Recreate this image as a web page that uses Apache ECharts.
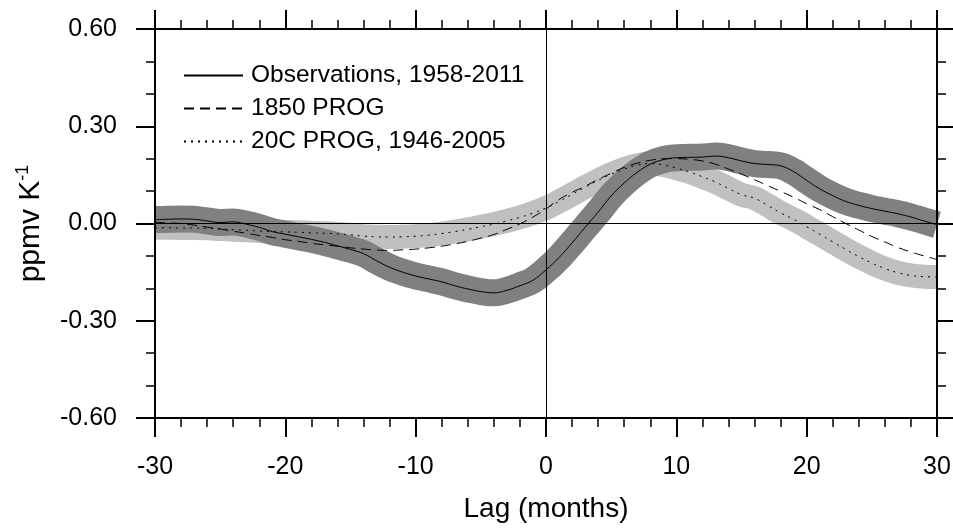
<!DOCTYPE html>
<html>
<head>
<meta charset="utf-8">
<title>Lag regression</title>
<script src="https://cdn.jsdelivr.net/npm/echarts@6/dist/echarts.min.js"></script>
<style>
    html, body { margin: 0; padding: 0; background: #fff; }
    #chart { width: 953px; height: 532px; }
</style>
</head>
<body>
<div id="chart"></div>
<script>
    'use strict';

    // lag in months, -30 .. 30
    var lags = [];
    for (var m = -30; m <= 30; m++) {
        lags.push(m);
    }

    // Observations, 1958-2011
    var obsValues = [
        0.012, 0.013, 0.014, 0.013, 0.008, 0.003, 0.005, -0.002, -0.012, -0.025,
        -0.033, -0.041, -0.049, -0.058, -0.069, -0.080, -0.093, -0.115, -0.135, -0.150,
        -0.162, -0.171, -0.180, -0.192, -0.202, -0.210, -0.214, -0.206, -0.192, -0.175,
        -0.143, -0.105, -0.060, -0.012, 0.035, 0.085, 0.125, 0.158, 0.183, 0.197,
        0.203, 0.204, 0.205, 0.208, 0.203, 0.193, 0.185, 0.182, 0.178, 0.160,
        0.133, 0.107, 0.086, 0.068, 0.056, 0.046, 0.038, 0.030, 0.020, 0.008,
        -0.004
    ];

    // 1850 PROG
    var prog1850Values = [
        0.004, 0.002, 0.000, -0.005, -0.011, -0.017, -0.024, -0.030, -0.037, -0.043,
        -0.050, -0.055, -0.061, -0.066, -0.070, -0.075, -0.079, -0.082, -0.083, -0.081,
        -0.079, -0.075, -0.070, -0.063, -0.055, -0.045, -0.034, -0.018, -0.001, 0.020,
        0.045, 0.074, 0.096, 0.115, 0.136, 0.155, 0.173, 0.186, 0.195, 0.200,
        0.200, 0.198, 0.193, 0.183, 0.168, 0.152, 0.135, 0.117, 0.099, 0.081,
        0.061, 0.043, 0.021, 0.000, -0.020, -0.040, -0.057, -0.074, -0.088, -0.100,
        -0.111
    ];

    // 20C PROG, 1946-2005
    var prog20cValues = [
        -0.013, -0.013, -0.014, -0.014, -0.015, -0.017, -0.019, -0.021, -0.023, -0.025,
        -0.026, -0.027, -0.029, -0.030, -0.032, -0.035, -0.039, -0.041, -0.042, -0.041,
        -0.039, -0.036, -0.031, -0.025, -0.018, -0.010, -0.002, 0.008, 0.019, 0.032,
        0.048, 0.068, 0.090, 0.112, 0.133, 0.152, 0.168, 0.180, 0.185, 0.181,
        0.171, 0.159, 0.144, 0.128, 0.108, 0.089, 0.078, 0.056, 0.033, 0.013,
        -0.010, -0.033, -0.057, -0.080, -0.102, -0.122, -0.139, -0.152, -0.160, -0.164,
        -0.165
    ];

    var legendNames = ['Observations, 1958-2011', '1850 PROG', '20C PROG, 1946-2005'];
    var xTicks = { min: -30, max: 30, step: 10 };
    var yTicks = { min: -0.6, max: 0.6, step: 0.3 };

    var FONT = "'Liberation Sans', Arial, Helvetica, sans-serif";

    function pairs(values) {
        var out = [];
        for (var i = 0; i < lags.length; i++) {
            out.push([lags[i], values[i]]);
        }
        return out;
    }

    function xAxisOf(pos, showLabel) {
        return {
            type: 'value',
            position: pos,
            min: xTicks.min,
            max: xTicks.max,
            interval: xTicks.step,
            z: 5,
            name: showLabel ? 'Lag (months)' : '',
            nameLocation: 'middle',
            nameGap: 77,
            nameTextStyle: { color: '#000', fontSize: 28, fontFamily: FONT },
            axisLine: { show: true, onZero: false, lineStyle: { color: '#000', width: 2 } },
            axisTick: { show: true, inside: false, length: 19, lineStyle: { color: '#000', width: 2 } },
            minorTick: { show: true, splitNumber: 5, length: 9, lineStyle: { color: '#000', width: 1.5 } },
            axisLabel: {
                show: showLabel, margin: 37, color: '#000', fontSize: 25, fontFamily: FONT
            },
            splitLine: { show: false },
            minorSplitLine: { show: false }
        };
    }

    function yAxisOf(pos, showLabel) {
        return {
            type: 'value',
            position: pos,
            min: yTicks.min,
            max: yTicks.max,
            interval: yTicks.step,
            z: 5,
            name: showLabel ? '{a|ppmv K}{s|-1}' : '',
            nameLocation: 'middle',
            nameRotate: 90,
            nameGap: 109,
            nameTextStyle: {
                color: '#000', fontFamily: FONT,
                rich: {
                    a: { fontSize: 30, fontFamily: FONT, color: '#000', verticalAlign: 'bottom', lineHeight: 32 },
                    s: { fontSize: 18, fontFamily: FONT, color: '#000', verticalAlign: 'top', lineHeight: 32, padding: [0, 0, 15, 0] }
                }
            },
            axisLine: { show: true, onZero: false, lineStyle: { color: '#000', width: 2 } },
            axisTick: { show: true, inside: false, length: 19, lineStyle: { color: '#000', width: 2 } },
            minorTick: { show: true, splitNumber: 3, length: 9, lineStyle: { color: '#000', width: 1.5 } },
            axisLabel: {
                show: showLabel, margin: 38, color: '#000', fontSize: 25, fontFamily: FONT,
                formatter: function (v) { return v.toFixed(2); }
            },
            splitLine: { show: false },
            minorSplitLine: { show: false }
        };
    }

    function band(name, values, color, width) {
        return {
            name: name,
            type: 'line',
            data: pairs(values),
            smooth: 0.4,
            symbol: 'none',
            silent: true,
            z: 2,
            lineStyle: { color: color, width: width, cap: 'butt', join: 'round' }
        };
    }

    function thin(name, values, type) {
        return {
            name: name,
            type: 'line',
            data: pairs(values),
            smooth: 0.4,
            symbol: 'none',
            silent: true,
            z: 4,
            lineStyle: { color: '#000', width: 1, type: type }
        };
    }

    var option = {
        animation: false,
        backgroundColor: '#fff',
        grid: { left: 155, right: 16, top: 29, bottom: 114, outerBoundsMode: 'none' },
        xAxis: [xAxisOf('bottom', true), xAxisOf('top', false)],
        yAxis: [yAxisOf('left', true), yAxisOf('right', false)],
        legend: {
            data: legendNames,
            orient: 'vertical',
            left: 183,
            top: 63,
            padding: 0,
            itemGap: 8,
            itemWidth: 59,
            itemHeight: 6,
            itemStyle: { opacity: 0 },
            selectedMode: false,
            textStyle: { color: '#000', fontSize: 24.5, fontFamily: FONT, padding: [0, 0, 0, 3] }
        },
        series: [
            {
                // zero reference lines
                name: 'ref',
                type: 'line',
                data: [],
                z: 1,
                markLine: {
                    silent: true,
                    symbol: 'none',
                    label: { show: false },
                    lineStyle: { color: '#000', width: 1, type: 'solid' },
                    data: [{ xAxis: 0 }, { yAxis: 0 }]
                }
            },
            band('20C band', prog20cValues, '#c0c0c0', 24),
            band('Obs band', obsValues, '#808080', 27),
            thin(legendNames[0], obsValues, 'solid'),
            thin(legendNames[1], prog1850Values, [10, 6]),
            thin(legendNames[2], prog20cValues, [2, 5])
        ]
    };

    var chart = echarts.init(document.getElementById('chart'), null, { renderer: 'canvas' });
    chart.setOption(option);
</script>
</body>
</html>
